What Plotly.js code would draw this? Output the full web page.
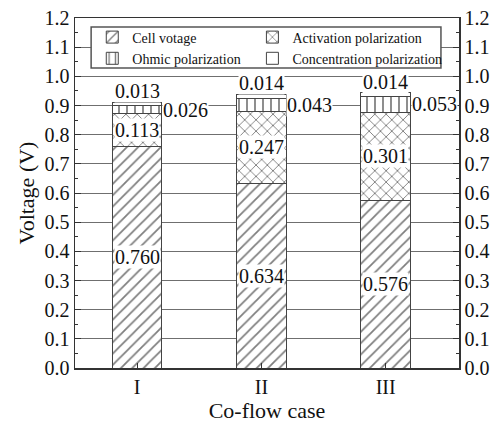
<!DOCTYPE html>
<html>
<head>
<meta charset="utf-8">
<script src="https://cdn.plot.ly/plotly-3.0.1.min.js"></script>
<style>html,body{margin:0;padding:0;background:#fff;}#chart{width:494px;height:431px;}</style>
</head>
<body>
<div id="chart"></div>
<script>
const cases = ["I", "II", "III"];
const seriesNames = ["Cell votage", "Activation polarization", "Ohmic polarization", "Concentration polarization"];
const cellVoltage = [0.760, 0.634, 0.576];
const activationPol = [0.113, 0.247, 0.301];
const ohmicPol = [0.026, 0.043, 0.053];
const concentrationPol = [0.013, 0.014, 0.014];
const yTicks = [0.0, 0.1, 0.2, 0.3, 0.4, 0.5, 0.6, 0.7, 0.8, 0.9, 1.0, 1.1, 1.2];

const FONT = "Liberation Serif";
const allSeries = [cellVoltage, activationPol, ohmicPol, concentrationPol];
const shapes = ["/", "x", "|", ""];
const legendIds = ["legend", "legend2", "legend", "legend2"];

const traces = allSeries.map((vals, i) => ({
  type: "bar",
  name: seriesNames[i],
  legend: legendIds[i],
  x: cases,
  y: vals,
  width: 0.4,
  marker: {
    color: "white",
    line: {color: "#444", width: 1},
    pattern: {shape: shapes[i], size: 8, solidity: 0.22, fgcolor: "#000", bgcolor: "white", fillmode: "overlay"}
  },
  hoverinfo: "skip"
}));

// invisible trace for the right axis
traces.push({type: "scatter", x: cases, y: [null, null, null], yaxis: "y2", showlegend: false, hoverinfo: "skip"});

const annotations = [];
cases.forEach((c, k) => {
  let base = 0;
  allSeries.forEach((vals, i) => {
    const v = vals[k];
    const mid = base + v / 2;
    const common = {x: c, xref: "x", yref: "y", showarrow: false, bgcolor: "white", borderpad: 0,
      font: {family: FONT, size: 20, color: "#111"}, text: v.toFixed(3)};
    if (i <= 1) {
      annotations.push(Object.assign({}, common, {y: mid, xanchor: "center", yanchor: "middle"}));
    } else if (i === 2) {
      annotations.push(Object.assign({}, common, {y: mid, xanchor: "left", yanchor: "middle", xshift: 25}));
    } else {
      annotations.push(Object.assign({}, common, {y: base + v, xanchor: "center", yanchor: "bottom", yshift: -1}));
    }
    base += v;
  });
});

const yAxisCommon = {
  range: [0, 1.2],
  tickvals: yTicks,
  tickformat: ".1f",
  ticks: "inside",
  ticklen: 6,
  tickwidth: 1,
  tickcolor: "#333",
  minor: {dtick: 0.05, ticks: "inside", ticklen: 3, tickcolor: "#333", showgrid: false},
  tickfont: {family: FONT, size: 20, color: "#111"},
  showline: true,
  linecolor: "#333",
  linewidth: 1.5,
  zeroline: false,
  fixedrange: true
};

const legendCommon = {
  orientation: "v",
  yanchor: "top",
  xanchor: "left",
  bgcolor: "rgba(0,0,0,0)",
  borderwidth: 0,
  tracegroupgap: 0,
  traceorder: "normal",
  itemwidth: 30,
  font: {family: FONT, size: 14, color: "#111"}
};

const layout = {
  width: 494,
  height: 431,
  margin: {l: 75, r: 35, t: 18, b: 63},
  paper_bgcolor: "white",
  plot_bgcolor: "white",
  barmode: "stack",
  font: {family: FONT, color: "#111"},
  xaxis: {
    type: "category",
    range: [-0.5, 2.59],
    showline: true,
    mirror: true,
    linecolor: "#333",
    linewidth: 1.5,
    ticks: "inside",
    ticklen: 5,
    tickcolor: "#333",
    tickfont: {family: FONT, size: 20, color: "#111"},
    title: {text: "Co-flow case", font: {family: FONT, size: 22, color: "#111"}, standoff: 6},
    fixedrange: true
  },
  yaxis: Object.assign({}, yAxisCommon, {
    showgrid: true,
    gridcolor: "#6f6f6f",
    gridwidth: 1,
    title: {text: "Voltage (V)", font: {family: FONT, size: 22, color: "#111"}, standoff: 4}
  }),
  yaxis2: Object.assign({}, yAxisCommon, {
    overlaying: "y",
    side: "right",
    showgrid: false
  }),
  legend: Object.assign({}, legendCommon, {x: 0.045, y: 0.99}),
  legend2: Object.assign({}, legendCommon, {x: 0.462, y: 0.99}),
  shapes: [{
    type: "rect", xref: "paper", yref: "paper",
    x0: 0.042, x1: 0.953, y0: 0.857, y1: 0.974,
    fillcolor: "white", line: {color: "#555", width: 1.5}, layer: "above"
  }],
  annotations: annotations,
  showlegend: true
};

Plotly.newPlot("chart", traces, layout, {displayModeBar: false, staticPlot: true});
</script>
</body>
</html>
